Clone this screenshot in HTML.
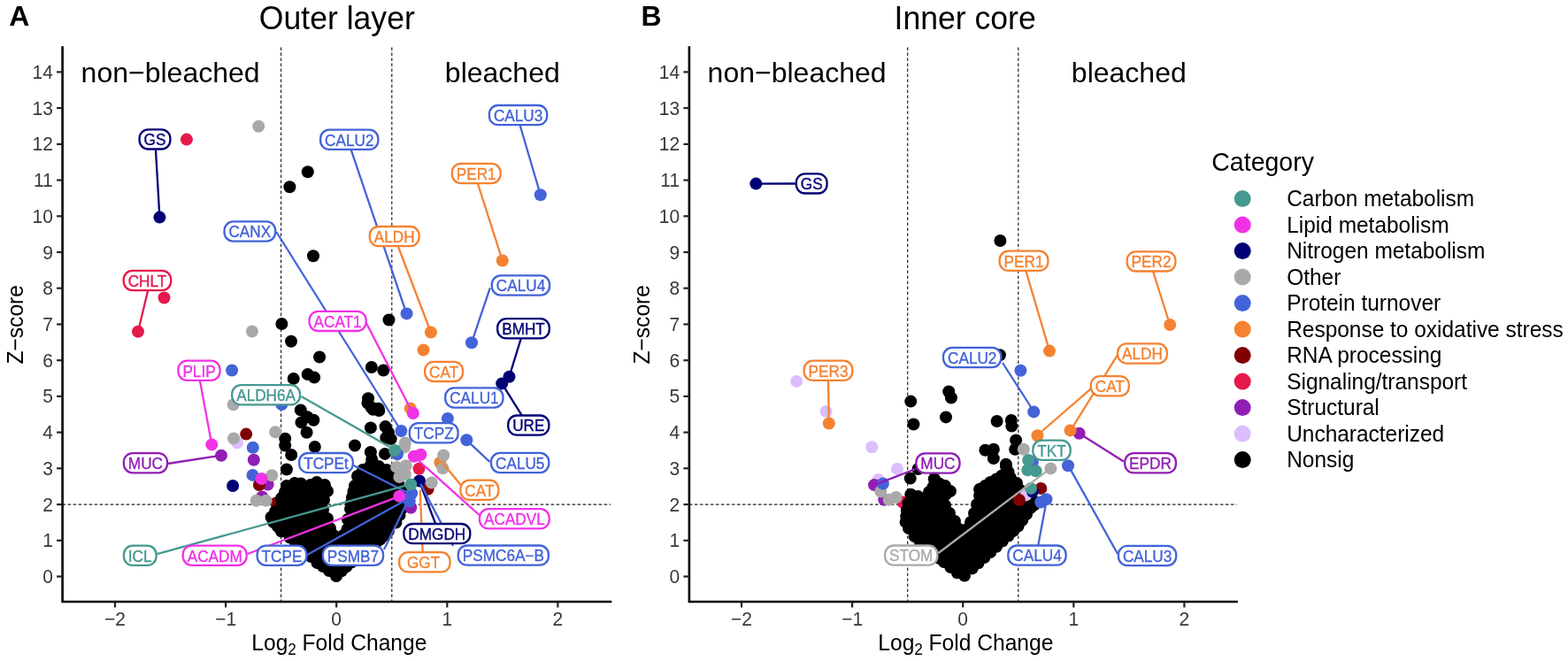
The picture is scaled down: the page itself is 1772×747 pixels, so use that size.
<!DOCTYPE html>
<html><head><meta charset="utf-8"><title>Volcano plots</title>
<style>
html,body{margin:0;padding:0;background:#fff;}
body{width:1772px;height:747px;overflow:hidden;}
svg{display:block;}
text{font-family:"Liberation Sans",Arial,sans-serif;}
.tk{font-size:21px;fill:#383838;}
.at{font-size:24.6px;fill:#000;}
.ann{font-size:32px;fill:#000;}
.lb{font-size:17.2px;}
.lt{font-size:28.5px;fill:#000;}
.lg{font-size:24.45px;fill:#000;}
.tag{font-size:32px;font-weight:bold;fill:#000;}
.ttl{font-size:35.6px;fill:#000;}
</style></head>
<body>
<svg width="1772" height="747" viewBox="0 0 1772 747">
<rect width="1772" height="747" fill="#fff"/>
<line x1="317.6" y1="53.5" x2="317.6" y2="680.0" stroke="#222" stroke-width="1.2" stroke-dasharray="3.6,2.4"/>
<line x1="442.8" y1="53.5" x2="442.8" y2="680.0" stroke="#222" stroke-width="1.2" stroke-dasharray="3.6,2.4"/>
<line x1="70.6" y1="570.1" x2="690.0" y2="570.1" stroke="#222" stroke-width="1.2" stroke-dasharray="3.6,2.4"/>
<line x1="1025.7" y1="53.5" x2="1025.7" y2="680.0" stroke="#222" stroke-width="1.2" stroke-dasharray="3.6,2.4"/>
<line x1="1150.8" y1="53.5" x2="1150.8" y2="680.0" stroke="#222" stroke-width="1.2" stroke-dasharray="3.6,2.4"/>
<line x1="778.9" y1="570.1" x2="1397.5" y2="570.1" stroke="#222" stroke-width="1.2" stroke-dasharray="3.6,2.4"/>
<circle cx="312.0" cy="568.4" r="7.0" fill="#800000"/>
<path d="M318.0,563.0 L322.0,556.0 L324.0,549.0 L333.0,546.0 L340.0,546.5 L351.0,548.0 L358.0,545.0 L367.0,548.0 L370.0,555.0 L366.0,565.0 L365.0,576.0 L370.0,586.0 L373.0,597.0 L377.0,605.0 L382.0,611.0 L388.0,605.0 L392.5,598.0 L393.0,587.0 L396.0,575.0 L398.0,562.0 L401.0,549.0 L404.0,538.0 L410.0,531.0 L418.0,527.0 L428.0,527.0 L437.0,531.0 L444.0,538.0 L450.0,546.0 L455.0,556.0 L457.0,567.0 L451.5,582.0 L447.4,590.5 L439.0,600.0 L433.7,605.5 L429.6,609.6 L420.0,618.0 L410.0,627.0 L396.9,635.6 L385.9,645.2 L380.0,651.0 L372.0,645.0 L365.0,640.0 L358.5,636.0 L351.6,629.0 L340.0,619.0 L327.7,607.5 L318.0,600.5 L314.0,595.0 L309.0,590.0 L306.6,584.5 L311.0,578.0 L319.0,569.0 Z" fill="#000"/>
<circle cx="318.0" cy="563.0" r="7.0"/>
<circle cx="322.0" cy="556.0" r="7.0"/>
<circle cx="324.0" cy="549.0" r="7.0"/>
<circle cx="333.0" cy="546.0" r="7.0"/>
<circle cx="340.0" cy="546.5" r="7.0"/>
<circle cx="351.0" cy="548.0" r="7.0"/>
<circle cx="358.0" cy="545.0" r="7.0"/>
<circle cx="367.0" cy="548.0" r="7.0"/>
<circle cx="370.0" cy="555.0" r="7.0"/>
<circle cx="366.0" cy="565.0" r="7.0"/>
<circle cx="365.0" cy="576.0" r="7.0"/>
<circle cx="370.0" cy="586.0" r="7.0"/>
<circle cx="373.0" cy="597.0" r="7.0"/>
<circle cx="377.0" cy="605.0" r="7.0"/>
<circle cx="382.0" cy="611.0" r="7.0"/>
<circle cx="388.0" cy="605.0" r="7.0"/>
<circle cx="392.5" cy="598.0" r="7.0"/>
<circle cx="393.0" cy="587.0" r="7.0"/>
<circle cx="396.0" cy="575.0" r="7.0"/>
<circle cx="397.0" cy="568.5" r="7.0"/>
<circle cx="398.0" cy="562.0" r="7.0"/>
<circle cx="399.5" cy="555.5" r="7.0"/>
<circle cx="401.0" cy="549.0" r="7.0"/>
<circle cx="404.0" cy="538.0" r="7.0"/>
<circle cx="410.0" cy="531.0" r="7.0"/>
<circle cx="418.0" cy="527.0" r="7.0"/>
<circle cx="428.0" cy="527.0" r="7.0"/>
<circle cx="437.0" cy="531.0" r="7.0"/>
<circle cx="444.0" cy="538.0" r="7.0"/>
<circle cx="450.0" cy="546.0" r="7.0"/>
<circle cx="455.0" cy="556.0" r="7.0"/>
<circle cx="457.0" cy="567.0" r="7.0"/>
<circle cx="454.2" cy="574.5" r="7.0"/>
<circle cx="451.5" cy="582.0" r="7.0"/>
<circle cx="447.4" cy="590.5" r="7.0"/>
<circle cx="439.0" cy="600.0" r="7.0"/>
<circle cx="433.7" cy="605.5" r="7.0"/>
<circle cx="429.6" cy="609.6" r="7.0"/>
<circle cx="424.8" cy="613.8" r="7.0"/>
<circle cx="420.0" cy="618.0" r="7.0"/>
<circle cx="415.0" cy="622.5" r="7.0"/>
<circle cx="410.0" cy="627.0" r="7.0"/>
<circle cx="403.4" cy="631.3" r="7.0"/>
<circle cx="396.9" cy="635.6" r="7.0"/>
<circle cx="391.4" cy="640.4" r="7.0"/>
<circle cx="385.9" cy="645.2" r="7.0"/>
<circle cx="380.0" cy="651.0" r="7.0"/>
<circle cx="372.0" cy="645.0" r="7.0"/>
<circle cx="365.0" cy="640.0" r="7.0"/>
<circle cx="358.5" cy="636.0" r="7.0"/>
<circle cx="351.6" cy="629.0" r="7.0"/>
<circle cx="345.8" cy="624.0" r="7.0"/>
<circle cx="340.0" cy="619.0" r="7.0"/>
<circle cx="333.9" cy="613.2" r="7.0"/>
<circle cx="327.7" cy="607.5" r="7.0"/>
<circle cx="318.0" cy="600.5" r="7.0"/>
<circle cx="314.0" cy="595.0" r="7.0"/>
<circle cx="309.0" cy="590.0" r="7.0"/>
<circle cx="306.6" cy="584.5" r="7.0"/>
<circle cx="311.0" cy="578.0" r="7.0"/>
<circle cx="319.0" cy="569.0" r="7.0"/>
<circle cx="347.8" cy="194.2" r="7.0" fill="#000000"/>
<circle cx="327.4" cy="211.3" r="7.0" fill="#000000"/>
<circle cx="354.0" cy="289.2" r="7.0" fill="#000000"/>
<circle cx="318.4" cy="366.0" r="7.0" fill="#000000"/>
<circle cx="329.0" cy="385.8" r="7.0" fill="#000000"/>
<circle cx="361.1" cy="403.5" r="7.0" fill="#000000"/>
<circle cx="331.7" cy="427.9" r="7.0" fill="#000000"/>
<circle cx="347.7" cy="423.1" r="7.0" fill="#000000"/>
<circle cx="355.2" cy="426.6" r="7.0" fill="#000000"/>
<circle cx="439.5" cy="361.5" r="7.0" fill="#000000"/>
<circle cx="419.9" cy="415.0" r="7.0" fill="#000000"/>
<circle cx="433.3" cy="418.5" r="7.0" fill="#000000"/>
<circle cx="416.1" cy="450.3" r="7.0" fill="#000000"/>
<circle cx="415.5" cy="455.6" r="7.0" fill="#000000"/>
<circle cx="419.5" cy="460.3" r="7.0" fill="#000000"/>
<circle cx="427.5" cy="461.7" r="7.0" fill="#000000"/>
<circle cx="339.8" cy="463.4" r="7.0" fill="#000000"/>
<circle cx="347.4" cy="471.3" r="7.0" fill="#000000"/>
<circle cx="354.4" cy="474.8" r="7.0" fill="#000000"/>
<circle cx="340.5" cy="477.4" r="7.0" fill="#000000"/>
<circle cx="346.6" cy="488.7" r="7.0" fill="#000000"/>
<circle cx="322.2" cy="495.7" r="7.0" fill="#000000"/>
<circle cx="322.2" cy="503.5" r="7.0" fill="#000000"/>
<circle cx="329.2" cy="514.0" r="7.0" fill="#000000"/>
<circle cx="323.9" cy="530.5" r="7.0" fill="#000000"/>
<circle cx="355.8" cy="505.0" r="7.0" fill="#000000"/>
<circle cx="401.0" cy="503.5" r="7.0" fill="#000000"/>
<circle cx="421.6" cy="462.7" r="7.0" fill="#000000"/>
<circle cx="428.3" cy="464.0" r="7.0" fill="#000000"/>
<circle cx="418.9" cy="483.4" r="7.0" fill="#000000"/>
<circle cx="435.6" cy="482.1" r="7.0" fill="#000000"/>
<circle cx="439.0" cy="488.8" r="7.0" fill="#000000"/>
<circle cx="436.3" cy="494.8" r="7.0" fill="#000000"/>
<circle cx="441.7" cy="496.1" r="7.0" fill="#000000"/>
<circle cx="418.9" cy="510.9" r="7.0" fill="#000000"/>
<circle cx="420.2" cy="518.9" r="7.0" fill="#000000"/>
<circle cx="422.2" cy="525.6" r="7.0" fill="#000000"/>
<circle cx="435.0" cy="512.9" r="7.0" fill="#000000"/>
<circle cx="437.6" cy="534.3" r="7.0" fill="#000000"/>
<circle cx="268.1" cy="500.4" r="7.0" fill="#dcbeff"/>
<circle cx="250.0" cy="514.8" r="7.0" fill="#911eb4"/>
<circle cx="286.8" cy="519.7" r="7.0" fill="#911eb4"/>
<circle cx="302.6" cy="547.5" r="7.0" fill="#911eb4"/>
<circle cx="296.2" cy="561.5" r="7.0" fill="#911eb4"/>
<circle cx="464.3" cy="573.7" r="7.0" fill="#911eb4"/>
<circle cx="567.8" cy="294.5" r="7.0" fill="#f58231"/>
<circle cx="486.9" cy="375.5" r="7.0" fill="#f58231"/>
<circle cx="478.5" cy="395.5" r="7.0" fill="#f58231"/>
<circle cx="463.8" cy="461.6" r="7.0" fill="#f58231"/>
<circle cx="497.4" cy="522.7" r="7.0" fill="#f58231"/>
<circle cx="278.2" cy="490.6" r="7.0" fill="#800000"/>
<circle cx="292.9" cy="548.0" r="7.0" fill="#800000"/>
<circle cx="483.6" cy="552.8" r="7.0" fill="#800000"/>
<circle cx="292.2" cy="142.8" r="7.0" fill="#a9a9a9"/>
<circle cx="284.9" cy="374.5" r="7.0" fill="#a9a9a9"/>
<circle cx="263.7" cy="457.2" r="7.0" fill="#a9a9a9"/>
<circle cx="264.1" cy="495.5" r="7.0" fill="#a9a9a9"/>
<circle cx="311.2" cy="488.2" r="7.0" fill="#a9a9a9"/>
<circle cx="307.2" cy="537.2" r="7.0" fill="#a9a9a9"/>
<circle cx="289.7" cy="565.7" r="7.0" fill="#a9a9a9"/>
<circle cx="300.6" cy="565.7" r="7.0" fill="#a9a9a9"/>
<circle cx="457.9" cy="500.5" r="7.0" fill="#a9a9a9"/>
<circle cx="457.0" cy="505.4" r="7.0" fill="#a9a9a9"/>
<circle cx="448.2" cy="527.9" r="7.0" fill="#a9a9a9"/>
<circle cx="458.7" cy="526.3" r="7.0" fill="#a9a9a9"/>
<circle cx="457.9" cy="535.9" r="7.0" fill="#a9a9a9"/>
<circle cx="451.4" cy="539.0" r="7.0" fill="#a9a9a9"/>
<circle cx="487.7" cy="545.5" r="7.0" fill="#a9a9a9"/>
<circle cx="501.2" cy="514.5" r="7.0" fill="#a9a9a9"/>
<circle cx="500.4" cy="529.2" r="7.0" fill="#a9a9a9"/>
<circle cx="180.4" cy="245.6" r="7.0" fill="#000075"/>
<circle cx="575.5" cy="425.7" r="7.0" fill="#000075"/>
<circle cx="567.2" cy="433.4" r="7.0" fill="#000075"/>
<circle cx="263.1" cy="549.0" r="7.0" fill="#000075"/>
<circle cx="474.0" cy="543.5" r="7.0" fill="#000075"/>
<circle cx="262.1" cy="418.5" r="7.0" fill="#4363d8"/>
<circle cx="318.3" cy="457.0" r="7.0" fill="#4363d8"/>
<circle cx="285.8" cy="505.8" r="7.0" fill="#4363d8"/>
<circle cx="285.5" cy="536.9" r="7.0" fill="#4363d8"/>
<circle cx="459.6" cy="354.4" r="7.0" fill="#4363d8"/>
<circle cx="610.8" cy="220.3" r="7.0" fill="#4363d8"/>
<circle cx="533.0" cy="387.2" r="7.0" fill="#4363d8"/>
<circle cx="453.4" cy="487.0" r="7.0" fill="#4363d8"/>
<circle cx="449.0" cy="513.4" r="7.0" fill="#4363d8"/>
<circle cx="505.9" cy="472.9" r="7.0" fill="#4363d8"/>
<circle cx="527.3" cy="497.3" r="7.0" fill="#4363d8"/>
<circle cx="465.2" cy="557.5" r="7.0" fill="#4363d8"/>
<circle cx="462.4" cy="563.1" r="7.0" fill="#4363d8"/>
<circle cx="462.7" cy="566.5" r="7.0" fill="#4363d8"/>
<circle cx="239.3" cy="502.4" r="7.0" fill="#f032e6"/>
<circle cx="295.5" cy="541.0" r="7.0" fill="#f032e6"/>
<circle cx="466.8" cy="467.0" r="7.0" fill="#f032e6"/>
<circle cx="467.8" cy="515.8" r="7.0" fill="#f032e6"/>
<circle cx="475.4" cy="513.7" r="7.0" fill="#f032e6"/>
<circle cx="451.4" cy="560.7" r="7.0" fill="#f032e6"/>
<circle cx="446.2" cy="509.0" r="7.0" fill="#469990"/>
<circle cx="464.3" cy="547.5" r="7.0" fill="#469990"/>
<circle cx="210.9" cy="157.6" r="7.0" fill="#e6194b"/>
<circle cx="185.5" cy="336.5" r="7.0" fill="#e6194b"/>
<circle cx="156.0" cy="374.8" r="7.0" fill="#e6194b"/>
<circle cx="473.5" cy="529.7" r="7.0" fill="#e6194b"/>
<line x1="176.0" y1="169.6" x2="180.4" y2="245.6" stroke="#000075" stroke-width="2.3"/>
<line x1="396.7" y1="169.2" x2="459.4" y2="354.4" stroke="#4363d8" stroke-width="2.3"/>
<line x1="587.8" y1="142.0" x2="610.8" y2="220.3" stroke="#4363d8" stroke-width="2.3"/>
<line x1="539.8" y1="207.0" x2="567.8" y2="294.5" stroke="#f58231" stroke-width="2.3"/>
<line x1="312.3" y1="262.0" x2="453.4" y2="487.0" stroke="#4363d8" stroke-width="2.3"/>
<line x1="449.7" y1="278.0" x2="486.9" y2="375.5" stroke="#f58231" stroke-width="2.3"/>
<line x1="167.0" y1="329.0" x2="156.0" y2="374.8" stroke="#e6194b" stroke-width="2.3"/>
<line x1="553.8" y1="325.3" x2="533.0" y2="387.2" stroke="#4363d8" stroke-width="2.3"/>
<line x1="413.9" y1="365.0" x2="466.8" y2="467.5" stroke="#f032e6" stroke-width="2.3"/>
<line x1="588.9" y1="382.2" x2="575.5" y2="425.7" stroke="#000075" stroke-width="2.3"/>
<line x1="226.0" y1="430.4" x2="239.3" y2="502.4" stroke="#f032e6" stroke-width="2.3"/>
<line x1="340.5" y1="448.0" x2="446.8" y2="508.8" stroke="#469990" stroke-width="2.3"/>
<line x1="590.6" y1="470.9" x2="567.2" y2="433.4" stroke="#000075" stroke-width="2.3"/>
<line x1="189.5" y1="524.0" x2="250.0" y2="514.7" stroke="#911eb4" stroke-width="2.3"/>
<line x1="399.6" y1="526.0" x2="462.0" y2="557.5" stroke="#4363d8" stroke-width="2.3"/>
<line x1="553.4" y1="521.8" x2="527.5" y2="497.7" stroke="#4363d8" stroke-width="2.3"/>
<line x1="521.0" y1="548.3" x2="500.0" y2="523.0" stroke="#f58231" stroke-width="2.3"/>
<line x1="541.6" y1="582.0" x2="468.0" y2="516.0" stroke="#f032e6" stroke-width="2.3"/>
<line x1="492.4" y1="592.5" x2="473.9" y2="543.9" stroke="#000075" stroke-width="2.3"/>
<line x1="177.3" y1="626.2" x2="464.3" y2="547.2" stroke="#469990" stroke-width="2.3"/>
<line x1="279.6" y1="626.0" x2="451.4" y2="560.8" stroke="#f032e6" stroke-width="2.3"/>
<line x1="347.1" y1="627.0" x2="462.4" y2="563.1" stroke="#4363d8" stroke-width="2.3"/>
<line x1="434.0" y1="621.0" x2="464.0" y2="560.0" stroke="#4363d8" stroke-width="2.3"/>
<line x1="512.1" y1="617.0" x2="475.3" y2="546.9" stroke="#4363d8" stroke-width="2.3"/>
<line x1="477.7" y1="625.0" x2="474.7" y2="554.0" stroke="#f58231" stroke-width="2.3"/>
<rect x="157.6" y="146.3" width="34.8" height="22.2" rx="10" ry="10" fill="#fff" stroke="#000075" stroke-width="2.3"/>
<text transform="translate(175.0,164.2) scale(1,1.04)" class="lb" text-anchor="middle" fill="#000075" stroke="#000075" stroke-width="0.35">GS</text>
<rect x="362.1" y="146.7" width="65.3" height="22.2" rx="10" ry="10" fill="#fff" stroke="#4363d8" stroke-width="2.3"/>
<text transform="translate(394.8,164.6) scale(1,1.04)" class="lb" text-anchor="middle" fill="#4363d8" stroke="#4363d8" stroke-width="0.35">CALU2</text>
<rect x="552.9" y="119.0" width="65.3" height="22.2" rx="10" ry="10" fill="#fff" stroke="#4363d8" stroke-width="2.3"/>
<text transform="translate(585.6,136.9) scale(1,1.04)" class="lb" text-anchor="middle" fill="#4363d8" stroke="#4363d8" stroke-width="0.35">CALU3</text>
<rect x="510.8" y="184.9" width="54.8" height="22.2" rx="10" ry="10" fill="#fff" stroke="#f58231" stroke-width="2.3"/>
<text transform="translate(538.2,202.8) scale(1,1.04)" class="lb" text-anchor="middle" fill="#f58231" stroke="#f58231" stroke-width="0.35">PER1</text>
<rect x="253.5" y="250.4" width="57.7" height="22.2" rx="10" ry="10" fill="#fff" stroke="#4363d8" stroke-width="2.3"/>
<text transform="translate(282.3,268.3) scale(1,1.04)" class="lb" text-anchor="middle" fill="#4363d8" stroke="#4363d8" stroke-width="0.35">CANX</text>
<rect x="417.8" y="256.0" width="55.8" height="22.2" rx="10" ry="10" fill="#fff" stroke="#f58231" stroke-width="2.3"/>
<text transform="translate(445.7,273.9) scale(1,1.04)" class="lb" text-anchor="middle" fill="#f58231" stroke="#f58231" stroke-width="0.35">ALDH</text>
<rect x="139.7" y="305.9" width="53.5" height="22.2" rx="10" ry="10" fill="#fff" stroke="#e6194b" stroke-width="2.3"/>
<text transform="translate(166.5,323.8) scale(1,1.04)" class="lb" text-anchor="middle" fill="#e6194b" stroke="#e6194b" stroke-width="0.35">CHLT</text>
<rect x="555.8" y="311.4" width="65.3" height="22.2" rx="10" ry="10" fill="#fff" stroke="#4363d8" stroke-width="2.3"/>
<text transform="translate(588.5,329.3) scale(1,1.04)" class="lb" text-anchor="middle" fill="#4363d8" stroke="#4363d8" stroke-width="0.35">CALU4</text>
<rect x="349.6" y="351.8" width="64.1" height="22.2" rx="10" ry="10" fill="#fff" stroke="#f032e6" stroke-width="2.3"/>
<text transform="translate(381.6,369.7) scale(1,1.04)" class="lb" text-anchor="middle" fill="#f032e6" stroke="#f032e6" stroke-width="0.35">ACAT1</text>
<rect x="562.2" y="360.2" width="58.6" height="22.2" rx="10" ry="10" fill="#fff" stroke="#000075" stroke-width="2.3"/>
<text transform="translate(591.5,378.1) scale(1,1.04)" class="lb" text-anchor="middle" fill="#000075" stroke="#000075" stroke-width="0.35">BMHT</text>
<rect x="201.4" y="407.6" width="47.2" height="22.2" rx="10" ry="10" fill="#fff" stroke="#f032e6" stroke-width="2.3"/>
<text transform="translate(225.0,425.5) scale(1,1.04)" class="lb" text-anchor="middle" fill="#f032e6" stroke="#f032e6" stroke-width="0.35">PLIP</text>
<rect x="480.1" y="408.8" width="43.0" height="22.2" rx="10" ry="10" fill="#fff" stroke="#f58231" stroke-width="2.3"/>
<text transform="translate(501.6,426.7) scale(1,1.04)" class="lb" text-anchor="middle" fill="#f58231" stroke="#f58231" stroke-width="0.35">CAT</text>
<rect x="262.2" y="435.2" width="76.8" height="22.2" rx="10" ry="10" fill="#fff" stroke="#469990" stroke-width="2.3"/>
<text transform="translate(300.6,453.1) scale(1,1.04)" class="lb" text-anchor="middle" fill="#469990" stroke="#469990" stroke-width="0.35">ALDH6A</text>
<rect x="503.2" y="438.4" width="65.3" height="22.2" rx="10" ry="10" fill="#fff" stroke="#4363d8" stroke-width="2.3"/>
<text transform="translate(535.9,456.3) scale(1,1.04)" class="lb" text-anchor="middle" fill="#4363d8" stroke="#4363d8" stroke-width="0.35">CALU1</text>
<rect x="574.2" y="469.5" width="46.2" height="22.2" rx="10" ry="10" fill="#fff" stroke="#000075" stroke-width="2.3"/>
<text transform="translate(597.3,487.4) scale(1,1.04)" class="lb" text-anchor="middle" fill="#000075" stroke="#000075" stroke-width="0.35">URE</text>
<rect x="462.8" y="478.2" width="54.8" height="22.2" rx="10" ry="10" fill="#fff" stroke="#4363d8" stroke-width="2.3"/>
<text transform="translate(490.2,496.1) scale(1,1.04)" class="lb" text-anchor="middle" fill="#4363d8" stroke="#4363d8" stroke-width="0.35">TCPZ</text>
<rect x="139.9" y="512.1" width="49.1" height="22.2" rx="10" ry="10" fill="#fff" stroke="#911eb4" stroke-width="2.3"/>
<text transform="translate(164.4,530.0) scale(1,1.04)" class="lb" text-anchor="middle" fill="#911eb4" stroke="#911eb4" stroke-width="0.35">MUC</text>
<rect x="338.2" y="512.0" width="60.6" height="22.2" rx="10" ry="10" fill="#fff" stroke="#4363d8" stroke-width="2.3"/>
<text transform="translate(368.5,529.9) scale(1,1.04)" class="lb" text-anchor="middle" fill="#4363d8" stroke="#4363d8" stroke-width="0.35">TCPEt</text>
<rect x="555.0" y="511.9" width="65.3" height="22.2" rx="10" ry="10" fill="#fff" stroke="#4363d8" stroke-width="2.3"/>
<text transform="translate(587.7,529.8) scale(1,1.04)" class="lb" text-anchor="middle" fill="#4363d8" stroke="#4363d8" stroke-width="0.35">CALU5</text>
<rect x="520.4" y="542.7" width="43.0" height="22.2" rx="10" ry="10" fill="#fff" stroke="#f58231" stroke-width="2.3"/>
<text transform="translate(541.9,560.6) scale(1,1.04)" class="lb" text-anchor="middle" fill="#f58231" stroke="#f58231" stroke-width="0.35">CAT</text>
<rect x="542.0" y="575.2" width="78.7" height="22.2" rx="10" ry="10" fill="#fff" stroke="#f032e6" stroke-width="2.3"/>
<text transform="translate(581.4,593.1) scale(1,1.04)" class="lb" text-anchor="middle" fill="#f032e6" stroke="#f032e6" stroke-width="0.35">ACADVL</text>
<rect x="456.4" y="592.0" width="74.9" height="22.2" rx="10" ry="10" fill="#fff" stroke="#000075" stroke-width="2.3"/>
<text transform="translate(493.8,609.9) scale(1,1.04)" class="lb" text-anchor="middle" fill="#000075" stroke="#000075" stroke-width="0.35">DMGDH</text>
<rect x="139.9" y="616.7" width="36.7" height="22.2" rx="10" ry="10" fill="#fff" stroke="#469990" stroke-width="2.3"/>
<text transform="translate(158.2,634.6) scale(1,1.04)" class="lb" text-anchor="middle" fill="#469990" stroke="#469990" stroke-width="0.35">ICL</text>
<rect x="206.7" y="616.6" width="72.0" height="22.2" rx="10" ry="10" fill="#fff" stroke="#f032e6" stroke-width="2.3"/>
<text transform="translate(242.7,634.5) scale(1,1.04)" class="lb" text-anchor="middle" fill="#f032e6" stroke="#f032e6" stroke-width="0.35">ACADM</text>
<rect x="290.6" y="616.6" width="55.8" height="22.2" rx="10" ry="10" fill="#fff" stroke="#4363d8" stroke-width="2.3"/>
<text transform="translate(318.5,634.5) scale(1,1.04)" class="lb" text-anchor="middle" fill="#4363d8" stroke="#4363d8" stroke-width="0.35">TCPE</text>
<rect x="364.9" y="616.6" width="68.2" height="22.2" rx="10" ry="10" fill="#fff" stroke="#4363d8" stroke-width="2.3"/>
<text transform="translate(399.0,634.5) scale(1,1.04)" class="lb" text-anchor="middle" fill="#4363d8" stroke="#4363d8" stroke-width="0.35">PSMB7</text>
<rect x="517.8" y="616.5" width="102.1" height="22.2" rx="10" ry="10" fill="#fff" stroke="#4363d8" stroke-width="2.3"/>
<text transform="translate(568.9,634.4) scale(1,1.04)" class="lb" text-anchor="middle" fill="#4363d8" stroke="#4363d8" stroke-width="0.35">PSMC6A−B</text>
<rect x="451.2" y="624.2" width="57.4" height="22.2" rx="10" ry="10" fill="#fff" stroke="#f58231" stroke-width="2.3"/>
<text transform="translate(478.6,642.1) scale(1,1.04)" class="lb" text-anchor="middle" fill="#f58231" stroke="#f58231" stroke-width="0.35">GGT</text>
<circle cx="1020.3" cy="567.5" r="7.0" fill="#e6194b"/>
<path d="M1029.3,558.7 L1037.5,561.0 L1045.0,563.5 L1050.0,556.0 L1054.6,550.3 L1055.8,541.3 L1061.8,546.7 L1068.0,549.0 L1073.9,555.1 L1063.0,563.0 L1068.0,571.0 L1073.0,580.0 L1079.0,589.0 L1084.0,598.0 L1088.5,604.0 L1093.0,598.0 L1097.0,590.0 L1101.0,580.0 L1104.0,570.0 L1107.0,560.0 L1107.0,553.0 L1120.0,545.0 L1132.0,538.0 L1137.0,527.0 L1142.0,540.0 L1149.0,546.0 L1157.0,562.0 L1169.0,567.0 L1160.0,581.0 L1150.6,594.6 L1139.6,605.5 L1126.0,617.8 L1112.3,630.1 L1098.7,642.4 L1090.0,650.6 L1081.9,647.2 L1066.9,635.0 L1050.0,622.0 L1040.0,613.0 L1033.5,606.0 L1027.0,597.0 L1023.6,590.0 L1024.8,576.8 L1026.6,568.4 Z" fill="#000"/>
<circle cx="1029.3" cy="558.7" r="7.0"/>
<circle cx="1037.5" cy="561.0" r="7.0"/>
<circle cx="1045.0" cy="563.5" r="7.0"/>
<circle cx="1050.0" cy="556.0" r="7.0"/>
<circle cx="1054.6" cy="550.3" r="7.0"/>
<circle cx="1055.8" cy="541.3" r="7.0"/>
<circle cx="1061.8" cy="546.7" r="7.0"/>
<circle cx="1068.0" cy="549.0" r="7.0"/>
<circle cx="1073.9" cy="555.1" r="7.0"/>
<circle cx="1068.5" cy="559.0" r="7.0"/>
<circle cx="1063.0" cy="563.0" r="7.0"/>
<circle cx="1068.0" cy="571.0" r="7.0"/>
<circle cx="1073.0" cy="580.0" r="7.0"/>
<circle cx="1079.0" cy="589.0" r="7.0"/>
<circle cx="1084.0" cy="598.0" r="7.0"/>
<circle cx="1088.5" cy="604.0" r="7.0"/>
<circle cx="1093.0" cy="598.0" r="7.0"/>
<circle cx="1097.0" cy="590.0" r="7.0"/>
<circle cx="1101.0" cy="580.0" r="7.0"/>
<circle cx="1104.0" cy="570.0" r="7.0"/>
<circle cx="1107.0" cy="560.0" r="7.0"/>
<circle cx="1107.0" cy="553.0" r="7.0"/>
<circle cx="1113.5" cy="549.0" r="7.0"/>
<circle cx="1120.0" cy="545.0" r="7.0"/>
<circle cx="1126.0" cy="541.5" r="7.0"/>
<circle cx="1132.0" cy="538.0" r="7.0"/>
<circle cx="1137.0" cy="527.0" r="7.0"/>
<circle cx="1139.5" cy="533.5" r="7.0"/>
<circle cx="1142.0" cy="540.0" r="7.0"/>
<circle cx="1149.0" cy="546.0" r="7.0"/>
<circle cx="1153.0" cy="554.0" r="7.0"/>
<circle cx="1157.0" cy="562.0" r="7.0"/>
<circle cx="1163.0" cy="564.5" r="7.0"/>
<circle cx="1169.0" cy="567.0" r="7.0"/>
<circle cx="1164.5" cy="574.0" r="7.0"/>
<circle cx="1160.0" cy="581.0" r="7.0"/>
<circle cx="1155.3" cy="587.8" r="7.0"/>
<circle cx="1150.6" cy="594.6" r="7.0"/>
<circle cx="1145.1" cy="600.0" r="7.0"/>
<circle cx="1139.6" cy="605.5" r="7.0"/>
<circle cx="1132.8" cy="611.6" r="7.0"/>
<circle cx="1126.0" cy="617.8" r="7.0"/>
<circle cx="1119.2" cy="624.0" r="7.0"/>
<circle cx="1112.3" cy="630.1" r="7.0"/>
<circle cx="1105.5" cy="636.2" r="7.0"/>
<circle cx="1098.7" cy="642.4" r="7.0"/>
<circle cx="1090.0" cy="650.6" r="7.0"/>
<circle cx="1081.9" cy="647.2" r="7.0"/>
<circle cx="1074.4" cy="641.1" r="7.0"/>
<circle cx="1066.9" cy="635.0" r="7.0"/>
<circle cx="1061.3" cy="630.7" r="7.0"/>
<circle cx="1055.6" cy="626.3" r="7.0"/>
<circle cx="1050.0" cy="622.0" r="7.0"/>
<circle cx="1045.0" cy="617.5" r="7.0"/>
<circle cx="1040.0" cy="613.0" r="7.0"/>
<circle cx="1033.5" cy="606.0" r="7.0"/>
<circle cx="1027.0" cy="597.0" r="7.0"/>
<circle cx="1023.6" cy="590.0" r="7.0"/>
<circle cx="1024.2" cy="583.4" r="7.0"/>
<circle cx="1024.8" cy="576.8" r="7.0"/>
<circle cx="1026.6" cy="568.4" r="7.0"/>
<circle cx="1130.4" cy="272.0" r="7.0" fill="#000000"/>
<circle cx="1129.9" cy="401.3" r="7.0" fill="#000000"/>
<circle cx="1029.2" cy="453.6" r="7.0" fill="#000000"/>
<circle cx="1032.4" cy="479.5" r="7.0" fill="#000000"/>
<circle cx="1072.2" cy="442.5" r="7.0" fill="#000000"/>
<circle cx="1074.9" cy="449.5" r="7.0" fill="#000000"/>
<circle cx="1069.0" cy="471.4" r="7.0" fill="#000000"/>
<circle cx="1126.6" cy="476.0" r="7.0" fill="#000000"/>
<circle cx="1142.8" cy="475.0" r="7.0" fill="#000000"/>
<circle cx="1143.3" cy="481.6" r="7.0" fill="#000000"/>
<circle cx="1148.1" cy="497.5" r="7.0" fill="#000000"/>
<circle cx="1147.2" cy="507.8" r="7.0" fill="#000000"/>
<circle cx="1113.4" cy="508.8" r="7.0" fill="#000000"/>
<circle cx="1122.8" cy="507.8" r="7.0" fill="#000000"/>
<circle cx="1122.8" cy="518.1" r="7.0" fill="#000000"/>
<circle cx="1136.9" cy="524.7" r="7.0" fill="#000000"/>
<circle cx="1132.2" cy="537.8" r="7.0" fill="#000000"/>
<circle cx="1119.1" cy="545.3" r="7.0" fill="#000000"/>
<circle cx="1148.1" cy="546.3" r="7.0" fill="#000000"/>
<circle cx="1107.8" cy="552.8" r="7.0" fill="#000000"/>
<circle cx="1028.7" cy="540.6" r="7.0" fill="#000000"/>
<circle cx="1037.5" cy="530.0" r="7.0" fill="#000000"/>
<circle cx="1168.8" cy="570.6" r="7.0" fill="#000000"/>
<circle cx="900.2" cy="430.9" r="7.0" fill="#dcbeff"/>
<circle cx="933.6" cy="465.1" r="7.0" fill="#dcbeff"/>
<circle cx="985.3" cy="505.3" r="7.0" fill="#dcbeff"/>
<circle cx="1014.0" cy="529.9" r="7.0" fill="#dcbeff"/>
<circle cx="992.5" cy="542.0" r="7.0" fill="#dcbeff"/>
<circle cx="1159.4" cy="559.4" r="7.0" fill="#dcbeff"/>
<circle cx="988.0" cy="548.1" r="7.0" fill="#911eb4"/>
<circle cx="999.2" cy="564.7" r="7.0" fill="#911eb4"/>
<circle cx="1219.6" cy="489.7" r="7.0" fill="#911eb4"/>
<circle cx="1186.0" cy="396.6" r="7.0" fill="#f58231"/>
<circle cx="1322.2" cy="367.0" r="7.0" fill="#f58231"/>
<circle cx="936.8" cy="478.5" r="7.0" fill="#f58231"/>
<circle cx="1172.4" cy="492.3" r="7.0" fill="#f58231"/>
<circle cx="1209.5" cy="486.4" r="7.0" fill="#f58231"/>
<circle cx="1176.3" cy="551.9" r="7.0" fill="#800000"/>
<circle cx="1151.9" cy="565.0" r="7.0" fill="#800000"/>
<circle cx="995.2" cy="555.4" r="7.0" fill="#a9a9a9"/>
<circle cx="1004.6" cy="564.7" r="7.0" fill="#a9a9a9"/>
<circle cx="1012.6" cy="562.0" r="7.0" fill="#a9a9a9"/>
<circle cx="1156.8" cy="507.8" r="7.0" fill="#a9a9a9"/>
<circle cx="1187.4" cy="529.4" r="7.0" fill="#a9a9a9"/>
<circle cx="854.3" cy="207.6" r="7.0" fill="#000075"/>
<circle cx="1166.9" cy="555.6" r="7.0" fill="#000075"/>
<circle cx="1153.4" cy="418.7" r="7.0" fill="#4363d8"/>
<circle cx="1168.2" cy="465.4" r="7.0" fill="#4363d8"/>
<circle cx="997.9" cy="546.5" r="7.0" fill="#4363d8"/>
<circle cx="1207.0" cy="526.2" r="7.0" fill="#4363d8"/>
<circle cx="1166.9" cy="521.9" r="7.0" fill="#4363d8"/>
<circle cx="1182.4" cy="564.3" r="7.0" fill="#4363d8"/>
<circle cx="1176.3" cy="567.5" r="7.0" fill="#4363d8"/>
<circle cx="1162.2" cy="520.0" r="7.0" fill="#469990"/>
<circle cx="1161.3" cy="531.3" r="7.0" fill="#469990"/>
<circle cx="1170.6" cy="532.2" r="7.0" fill="#469990"/>
<circle cx="1165.0" cy="551.9" r="7.0" fill="#469990"/>
<line x1="898.8" y1="207.5" x2="854.3" y2="207.6" stroke="#000075" stroke-width="2.3"/>
<line x1="1159.3" y1="306.0" x2="1186.1" y2="396.7" stroke="#f58231" stroke-width="2.3"/>
<line x1="1303.0" y1="306.6" x2="1322.2" y2="367.0" stroke="#f58231" stroke-width="2.3"/>
<line x1="1262.8" y1="401.4" x2="1209.8" y2="486.5" stroke="#f58231" stroke-width="2.3"/>
<line x1="1133.0" y1="410.0" x2="1168.6" y2="465.5" stroke="#4363d8" stroke-width="2.3"/>
<line x1="936.0" y1="430.3" x2="936.8" y2="478.5" stroke="#f58231" stroke-width="2.3"/>
<line x1="1233.9" y1="438.3" x2="1172.2" y2="492.0" stroke="#f58231" stroke-width="2.3"/>
<line x1="1034.7" y1="530.0" x2="988.0" y2="548.1" stroke="#911eb4" stroke-width="2.3"/>
<line x1="1269.8" y1="521.5" x2="1220.3" y2="490.2" stroke="#911eb4" stroke-width="2.3"/>
<line x1="1060.5" y1="625.0" x2="1187.3" y2="529.2" stroke="#a9a9a9" stroke-width="2.3"/>
<line x1="1173.2" y1="616.4" x2="1182.8" y2="565.0" stroke="#4363d8" stroke-width="2.3"/>
<line x1="1263.1" y1="626.0" x2="1207.7" y2="526.9" stroke="#4363d8" stroke-width="2.3"/>
<rect x="899.8" y="196.3" width="34.8" height="22.2" rx="10" ry="10" fill="#fff" stroke="#000075" stroke-width="2.3"/>
<text transform="translate(917.2,214.2) scale(1,1.04)" class="lb" text-anchor="middle" fill="#000075" stroke="#000075" stroke-width="0.35">GS</text>
<rect x="1129.6" y="283.7" width="54.8" height="22.2" rx="10" ry="10" fill="#fff" stroke="#f58231" stroke-width="2.3"/>
<text transform="translate(1157.0,301.6) scale(1,1.04)" class="lb" text-anchor="middle" fill="#f58231" stroke="#f58231" stroke-width="0.35">PER1</text>
<rect x="1273.6" y="284.3" width="54.8" height="22.2" rx="10" ry="10" fill="#fff" stroke="#f58231" stroke-width="2.3"/>
<text transform="translate(1301.0,302.2) scale(1,1.04)" class="lb" text-anchor="middle" fill="#f58231" stroke="#f58231" stroke-width="0.35">PER2</text>
<rect x="1263.1" y="388.4" width="55.8" height="22.2" rx="10" ry="10" fill="#fff" stroke="#f58231" stroke-width="2.3"/>
<text transform="translate(1291.0,406.3) scale(1,1.04)" class="lb" text-anchor="middle" fill="#f58231" stroke="#f58231" stroke-width="0.35">ALDH</text>
<rect x="1066.0" y="392.9" width="65.3" height="22.2" rx="10" ry="10" fill="#fff" stroke="#4363d8" stroke-width="2.3"/>
<text transform="translate(1098.7,410.8) scale(1,1.04)" class="lb" text-anchor="middle" fill="#4363d8" stroke="#4363d8" stroke-width="0.35">CALU2</text>
<rect x="908.6" y="407.7" width="54.8" height="22.2" rx="10" ry="10" fill="#fff" stroke="#f58231" stroke-width="2.3"/>
<text transform="translate(936.0,425.6) scale(1,1.04)" class="lb" text-anchor="middle" fill="#f58231" stroke="#f58231" stroke-width="0.35">PER3</text>
<rect x="1232.8" y="425.1" width="43.0" height="22.2" rx="10" ry="10" fill="#fff" stroke="#f58231" stroke-width="2.3"/>
<text transform="translate(1254.3,443.0) scale(1,1.04)" class="lb" text-anchor="middle" fill="#f58231" stroke="#f58231" stroke-width="0.35">CAT</text>
<rect x="1167.3" y="497.7" width="42.4" height="22.2" rx="10" ry="10" fill="#fff" stroke="#469990" stroke-width="2.3"/>
<text transform="translate(1188.5,515.6) scale(1,1.04)" class="lb" text-anchor="middle" fill="#469990" stroke="#469990" stroke-width="0.35">TKT</text>
<rect x="1035.4" y="512.4" width="49.1" height="22.2" rx="10" ry="10" fill="#fff" stroke="#911eb4" stroke-width="2.3"/>
<text transform="translate(1059.9,530.3) scale(1,1.04)" class="lb" text-anchor="middle" fill="#911eb4" stroke="#911eb4" stroke-width="0.35">MUC</text>
<rect x="1271.2" y="512.2" width="57.7" height="22.2" rx="10" ry="10" fill="#fff" stroke="#911eb4" stroke-width="2.3"/>
<text transform="translate(1300.0,530.1) scale(1,1.04)" class="lb" text-anchor="middle" fill="#911eb4" stroke="#911eb4" stroke-width="0.35">EPDR</text>
<rect x="1000.1" y="616.5" width="59.3" height="22.2" rx="10" ry="10" fill="#fff" stroke="#a9a9a9" stroke-width="2.3"/>
<text transform="translate(1029.7,634.4) scale(1,1.04)" class="lb" text-anchor="middle" fill="#a9a9a9" stroke="#a9a9a9" stroke-width="0.35">STOM</text>
<rect x="1139.3" y="616.5" width="65.3" height="22.2" rx="10" ry="10" fill="#fff" stroke="#4363d8" stroke-width="2.3"/>
<text transform="translate(1172.0,634.4) scale(1,1.04)" class="lb" text-anchor="middle" fill="#4363d8" stroke="#4363d8" stroke-width="0.35">CALU4</text>
<rect x="1263.9" y="616.9" width="65.3" height="22.2" rx="10" ry="10" fill="#fff" stroke="#4363d8" stroke-width="2.3"/>
<text transform="translate(1296.6,634.8) scale(1,1.04)" class="lb" text-anchor="middle" fill="#4363d8" stroke="#4363d8" stroke-width="0.35">CALU3</text>
<path d="M70.6,53.5 V680.0 H690.0" fill="none" stroke="#000" stroke-width="2.6" stroke-linecap="square"/>
<line x1="64.1" y1="651.5" x2="70.6" y2="651.5" stroke="#222" stroke-width="2.2"/>
<text transform="translate(59.8,659.0) scale(1,1.04)" class="tk" text-anchor="end">0</text>
<line x1="64.1" y1="610.8" x2="70.6" y2="610.8" stroke="#222" stroke-width="2.2"/>
<text transform="translate(59.8,618.3) scale(1,1.04)" class="tk" text-anchor="end">1</text>
<line x1="64.1" y1="570.1" x2="70.6" y2="570.1" stroke="#222" stroke-width="2.2"/>
<text transform="translate(59.8,577.6) scale(1,1.04)" class="tk" text-anchor="end">2</text>
<line x1="64.1" y1="529.3" x2="70.6" y2="529.3" stroke="#222" stroke-width="2.2"/>
<text transform="translate(59.8,536.8) scale(1,1.04)" class="tk" text-anchor="end">3</text>
<line x1="64.1" y1="488.6" x2="70.6" y2="488.6" stroke="#222" stroke-width="2.2"/>
<text transform="translate(59.8,496.1) scale(1,1.04)" class="tk" text-anchor="end">4</text>
<line x1="64.1" y1="447.9" x2="70.6" y2="447.9" stroke="#222" stroke-width="2.2"/>
<text transform="translate(59.8,455.4) scale(1,1.04)" class="tk" text-anchor="end">5</text>
<line x1="64.1" y1="407.2" x2="70.6" y2="407.2" stroke="#222" stroke-width="2.2"/>
<text transform="translate(59.8,414.7) scale(1,1.04)" class="tk" text-anchor="end">6</text>
<line x1="64.1" y1="366.5" x2="70.6" y2="366.5" stroke="#222" stroke-width="2.2"/>
<text transform="translate(59.8,374.0) scale(1,1.04)" class="tk" text-anchor="end">7</text>
<line x1="64.1" y1="325.7" x2="70.6" y2="325.7" stroke="#222" stroke-width="2.2"/>
<text transform="translate(59.8,333.2) scale(1,1.04)" class="tk" text-anchor="end">8</text>
<line x1="64.1" y1="285.0" x2="70.6" y2="285.0" stroke="#222" stroke-width="2.2"/>
<text transform="translate(59.8,292.5) scale(1,1.04)" class="tk" text-anchor="end">9</text>
<line x1="64.1" y1="244.3" x2="70.6" y2="244.3" stroke="#222" stroke-width="2.2"/>
<text transform="translate(59.8,251.8) scale(1,1.04)" class="tk" text-anchor="end">10</text>
<line x1="64.1" y1="203.6" x2="70.6" y2="203.6" stroke="#222" stroke-width="2.2"/>
<text transform="translate(59.8,211.1) scale(1,1.04)" class="tk" text-anchor="end">11</text>
<line x1="64.1" y1="162.9" x2="70.6" y2="162.9" stroke="#222" stroke-width="2.2"/>
<text transform="translate(59.8,170.4) scale(1,1.04)" class="tk" text-anchor="end">12</text>
<line x1="64.1" y1="122.1" x2="70.6" y2="122.1" stroke="#222" stroke-width="2.2"/>
<text transform="translate(59.8,129.6) scale(1,1.04)" class="tk" text-anchor="end">13</text>
<line x1="64.1" y1="81.4" x2="70.6" y2="81.4" stroke="#222" stroke-width="2.2"/>
<text transform="translate(59.8,88.9) scale(1,1.04)" class="tk" text-anchor="end">14</text>
<line x1="130.0" y1="680.0" x2="130.0" y2="686.5" stroke="#222" stroke-width="2.2"/>
<text transform="translate(130.0,706.6) scale(1,1.04)" class="tk" text-anchor="middle">−2</text>
<line x1="255.1" y1="680.0" x2="255.1" y2="686.5" stroke="#222" stroke-width="2.2"/>
<text transform="translate(255.1,706.6) scale(1,1.04)" class="tk" text-anchor="middle">−1</text>
<line x1="380.2" y1="680.0" x2="380.2" y2="686.5" stroke="#222" stroke-width="2.2"/>
<text transform="translate(380.2,706.6) scale(1,1.04)" class="tk" text-anchor="middle">0</text>
<line x1="505.3" y1="680.0" x2="505.3" y2="686.5" stroke="#222" stroke-width="2.2"/>
<text transform="translate(505.3,706.6) scale(1,1.04)" class="tk" text-anchor="middle">1</text>
<line x1="630.4" y1="680.0" x2="630.4" y2="686.5" stroke="#222" stroke-width="2.2"/>
<text transform="translate(630.4,706.6) scale(1,1.04)" class="tk" text-anchor="middle">2</text>
<text transform="translate(284.3,735.4) scale(1,1.04)" class="at">Log</text>
<text transform="translate(325.2,739.6) scale(1,1.04)" class="at" style="font-size:17.2px">2</text>
<text transform="translate(341.6,735.4) scale(1,1.04)" class="at">Fold Change</text>
<text transform="translate(25.6,366.8) rotate(-90) scale(1,1.04)" class="at" text-anchor="middle">Z−score</text>
<text transform="translate(192.6,92.9) scale(1,1.0)" class="ann" text-anchor="middle">non−bleached</text>
<text transform="translate(567.8,92.9) scale(1,1.0)" class="ann" text-anchor="middle">bleached</text>
<path d="M778.9,53.5 V680.0 H1397.5" fill="none" stroke="#000" stroke-width="2.6" stroke-linecap="square"/>
<line x1="772.4" y1="651.5" x2="778.9" y2="651.5" stroke="#222" stroke-width="2.2"/>
<text transform="translate(768.1,659.0) scale(1,1.04)" class="tk" text-anchor="end">0</text>
<line x1="772.4" y1="610.8" x2="778.9" y2="610.8" stroke="#222" stroke-width="2.2"/>
<text transform="translate(768.1,618.3) scale(1,1.04)" class="tk" text-anchor="end">1</text>
<line x1="772.4" y1="570.1" x2="778.9" y2="570.1" stroke="#222" stroke-width="2.2"/>
<text transform="translate(768.1,577.6) scale(1,1.04)" class="tk" text-anchor="end">2</text>
<line x1="772.4" y1="529.3" x2="778.9" y2="529.3" stroke="#222" stroke-width="2.2"/>
<text transform="translate(768.1,536.8) scale(1,1.04)" class="tk" text-anchor="end">3</text>
<line x1="772.4" y1="488.6" x2="778.9" y2="488.6" stroke="#222" stroke-width="2.2"/>
<text transform="translate(768.1,496.1) scale(1,1.04)" class="tk" text-anchor="end">4</text>
<line x1="772.4" y1="447.9" x2="778.9" y2="447.9" stroke="#222" stroke-width="2.2"/>
<text transform="translate(768.1,455.4) scale(1,1.04)" class="tk" text-anchor="end">5</text>
<line x1="772.4" y1="407.2" x2="778.9" y2="407.2" stroke="#222" stroke-width="2.2"/>
<text transform="translate(768.1,414.7) scale(1,1.04)" class="tk" text-anchor="end">6</text>
<line x1="772.4" y1="366.5" x2="778.9" y2="366.5" stroke="#222" stroke-width="2.2"/>
<text transform="translate(768.1,374.0) scale(1,1.04)" class="tk" text-anchor="end">7</text>
<line x1="772.4" y1="325.7" x2="778.9" y2="325.7" stroke="#222" stroke-width="2.2"/>
<text transform="translate(768.1,333.2) scale(1,1.04)" class="tk" text-anchor="end">8</text>
<line x1="772.4" y1="285.0" x2="778.9" y2="285.0" stroke="#222" stroke-width="2.2"/>
<text transform="translate(768.1,292.5) scale(1,1.04)" class="tk" text-anchor="end">9</text>
<line x1="772.4" y1="244.3" x2="778.9" y2="244.3" stroke="#222" stroke-width="2.2"/>
<text transform="translate(768.1,251.8) scale(1,1.04)" class="tk" text-anchor="end">10</text>
<line x1="772.4" y1="203.6" x2="778.9" y2="203.6" stroke="#222" stroke-width="2.2"/>
<text transform="translate(768.1,211.1) scale(1,1.04)" class="tk" text-anchor="end">11</text>
<line x1="772.4" y1="162.9" x2="778.9" y2="162.9" stroke="#222" stroke-width="2.2"/>
<text transform="translate(768.1,170.4) scale(1,1.04)" class="tk" text-anchor="end">12</text>
<line x1="772.4" y1="122.1" x2="778.9" y2="122.1" stroke="#222" stroke-width="2.2"/>
<text transform="translate(768.1,129.6) scale(1,1.04)" class="tk" text-anchor="end">13</text>
<line x1="772.4" y1="81.4" x2="778.9" y2="81.4" stroke="#222" stroke-width="2.2"/>
<text transform="translate(768.1,88.9) scale(1,1.04)" class="tk" text-anchor="end">14</text>
<line x1="838.0" y1="680.0" x2="838.0" y2="686.5" stroke="#222" stroke-width="2.2"/>
<text transform="translate(838.0,706.6) scale(1,1.04)" class="tk" text-anchor="middle">−2</text>
<line x1="963.1" y1="680.0" x2="963.1" y2="686.5" stroke="#222" stroke-width="2.2"/>
<text transform="translate(963.1,706.6) scale(1,1.04)" class="tk" text-anchor="middle">−1</text>
<line x1="1088.2" y1="680.0" x2="1088.2" y2="686.5" stroke="#222" stroke-width="2.2"/>
<text transform="translate(1088.2,706.6) scale(1,1.04)" class="tk" text-anchor="middle">0</text>
<line x1="1213.3" y1="680.0" x2="1213.3" y2="686.5" stroke="#222" stroke-width="2.2"/>
<text transform="translate(1213.3,706.6) scale(1,1.04)" class="tk" text-anchor="middle">1</text>
<line x1="1338.4" y1="680.0" x2="1338.4" y2="686.5" stroke="#222" stroke-width="2.2"/>
<text transform="translate(1338.4,706.6) scale(1,1.04)" class="tk" text-anchor="middle">2</text>
<text transform="translate(992.3,735.4) scale(1,1.04)" class="at">Log</text>
<text transform="translate(1033.2,739.6) scale(1,1.04)" class="at" style="font-size:17.2px">2</text>
<text transform="translate(1049.6,735.4) scale(1,1.04)" class="at">Fold Change</text>
<text transform="translate(733.9,366.8) rotate(-90) scale(1,1.04)" class="at" text-anchor="middle">Z−score</text>
<text transform="translate(900.6,92.9) scale(1,1.0)" class="ann" text-anchor="middle">non−bleached</text>
<text transform="translate(1275.8,92.9) scale(1,1.0)" class="ann" text-anchor="middle">bleached</text>
<text transform="translate(1369.3,193.0) scale(1,1.04)" class="lt">Category</text>
<circle cx="1404.2" cy="224.6" r="9.5" fill="#469990"/>
<text transform="translate(1454.2,233.4) scale(1,1.04)" class="lg">Carbon metabolism</text>
<circle cx="1404.2" cy="254.1" r="9.5" fill="#f032e6"/>
<text transform="translate(1454.2,262.9) scale(1,1.04)" class="lg">Lipid metabolism</text>
<circle cx="1404.2" cy="283.6" r="9.5" fill="#000075"/>
<text transform="translate(1454.2,292.4) scale(1,1.04)" class="lg">Nitrogen metabolism</text>
<circle cx="1404.2" cy="313.1" r="9.5" fill="#a9a9a9"/>
<text transform="translate(1454.2,321.9) scale(1,1.04)" class="lg">Other</text>
<circle cx="1404.2" cy="342.6" r="9.5" fill="#4363d8"/>
<text transform="translate(1454.2,351.4) scale(1,1.04)" class="lg">Protein turnover</text>
<circle cx="1404.2" cy="372.1" r="9.5" fill="#f58231"/>
<text transform="translate(1454.2,380.9) scale(1,1.04)" class="lg">Response to oxidative stress</text>
<circle cx="1404.2" cy="401.6" r="9.5" fill="#800000"/>
<text transform="translate(1454.2,410.4) scale(1,1.04)" class="lg">RNA processing</text>
<circle cx="1404.2" cy="431.1" r="9.5" fill="#e6194b"/>
<text transform="translate(1454.2,439.9) scale(1,1.04)" class="lg">Signaling/transport</text>
<circle cx="1404.2" cy="460.6" r="9.5" fill="#911eb4"/>
<text transform="translate(1454.2,469.4) scale(1,1.04)" class="lg">Structural</text>
<circle cx="1404.2" cy="490.1" r="9.5" fill="#dcbeff"/>
<text transform="translate(1454.2,498.9) scale(1,1.04)" class="lg">Uncharacterized</text>
<circle cx="1404.2" cy="519.6" r="9.5" fill="#000000"/>
<text transform="translate(1454.2,528.4) scale(1,1.04)" class="lg">Nonsig</text>
<text transform="translate(10.2,28.9) scale(1,1.0)" class="tag">A</text>
<text transform="translate(724.5,28.9) scale(1,1.0)" class="tag">B</text>
<text transform="translate(380.8,32.5) scale(1,1.02)" class="ttl" text-anchor="middle">Outer layer</text>
<text transform="translate(1090.6,32.5) scale(1,1.02)" class="ttl" text-anchor="middle">Inner core</text>
</svg>
</body></html>
